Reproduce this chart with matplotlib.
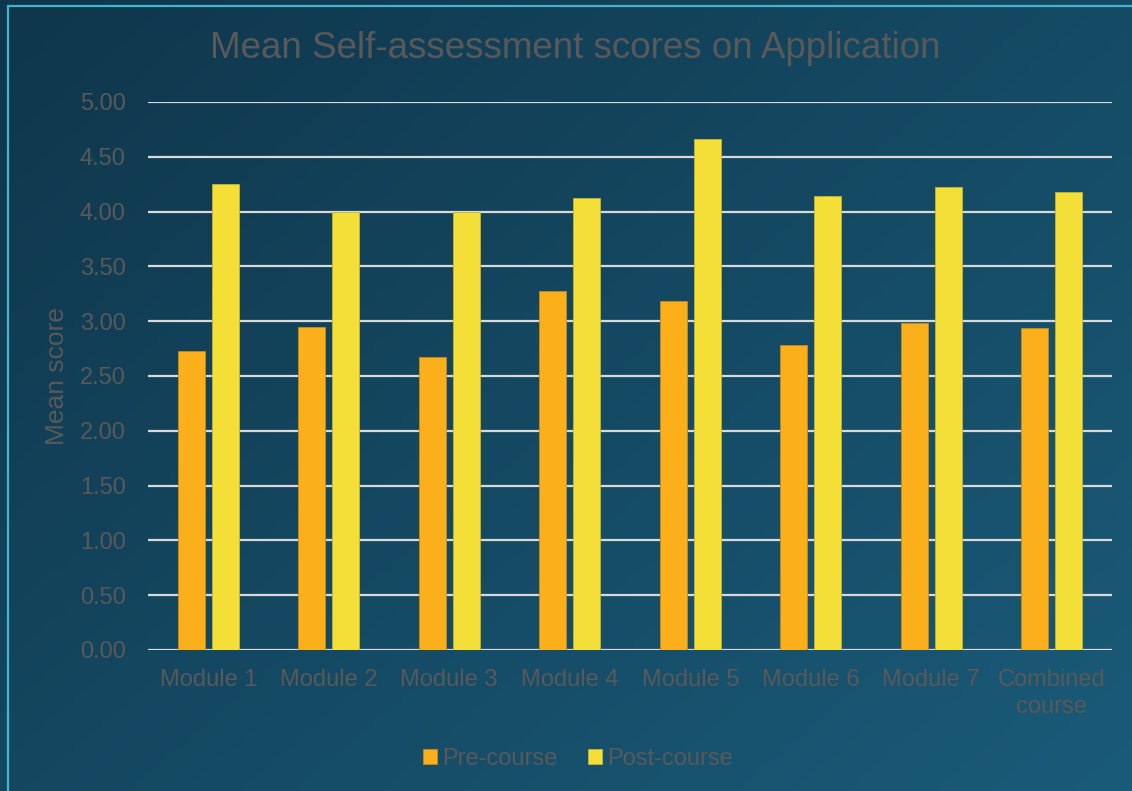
import numpy as np
import matplotlib.pyplot as plt
from matplotlib.patches import Rectangle
from matplotlib.colors import LinearSegmentedColormap

plt.rcParams['font.family'] = ['Liberation Sans', 'DejaVu Sans']

categories = ['Module 1', 'Module 2', 'Module 3', 'Module 4', 'Module 5',
              'Module 6', 'Module 7', 'Combined\ncourse']
pre_course = [2.73, 2.95, 2.67, 3.28, 3.18, 2.78, 2.98, 2.94]
post_course = [4.25, 4.00, 4.00, 4.12, 4.66, 4.14, 4.22, 4.18]

text_col = '#595959'

fig = plt.figure(figsize=(11.32, 7.91), dpi=100)

# gradient background
bg = fig.add_axes([0, 0, 1, 1], zorder=-10)
yy, xx = np.mgrid[0:1:200j, 0:1:200j]
grad = 0.55 * xx + 0.45 * yy
cmap = LinearSegmentedColormap.from_list('bg', ['#0f364b', '#1a5b79'])
bg.imshow(grad, cmap=cmap, aspect='auto', extent=[0, 1, 0, 1], origin='upper')
bg.add_patch(Rectangle((7.5 / 1132, -0.1), 1.2, 1 - 5.5 / 791 + 0.1,
                       fill=False, edgecolor='#45b4cc', lw=1.6))
bg.set_xlim(0, 1)
bg.set_ylim(0, 1)
bg.axis('off')

ax = fig.add_axes([148 / 1132, 1 - 650 / 791, (1112 - 148) / 1132, (650 - 102) / 791])
ax.patch.set_alpha(0)

x = np.arange(len(categories))
w = 0.225
ax.bar(x - 0.14, pre_course, w, color='#fbaf1b', edgecolor='#c98a10', lw=0.6,
       label='Pre-course', zorder=3)
ax.bar(x + 0.14, post_course, w, color='#f4df38', edgecolor='#c8b42a', lw=0.6,
       label='Post-course', zorder=3)

ax.set_xlim(-0.5, len(categories) - 0.5)
ax.set_ylim(0, 5)
ax.set_yticks(np.arange(0, 5.01, 0.5))
ax.set_yticklabels([f'{v:.2f}' for v in np.arange(0, 5.01, 0.5)])
ax.set_xticks(x)
ax.set_xticklabels(categories, linespacing=1.25)
ax.tick_params(colors=text_col, labelsize=17, length=0)
ax.tick_params(axis='y', pad=16)
ax.tick_params(axis='x', pad=14)
ax.grid(axis='y', color='#d9d9d9', lw=1.6, zorder=0)
for s in ax.spines.values():
    s.set_visible(False)
ax.set_ylabel('Mean score', color=text_col, fontsize=19, labelpad=8)

fig.text(575 / 1132, 1 - 48 / 791, 'Mean Self-assessment scores on Application',
         ha='center', va='center', fontsize=26.5, color=text_col)

leg = fig.legend(loc='center', bbox_to_anchor=(578 / 1132, 1 - 759 / 791), ncol=2,
                 frameon=False, fontsize=17, handlelength=0.6, handleheight=0.6,
                 handletextpad=0.2, columnspacing=1.3)
for t in leg.get_texts():
    t.set_color(text_col)

fig.savefig('out.png', dpi=100)
